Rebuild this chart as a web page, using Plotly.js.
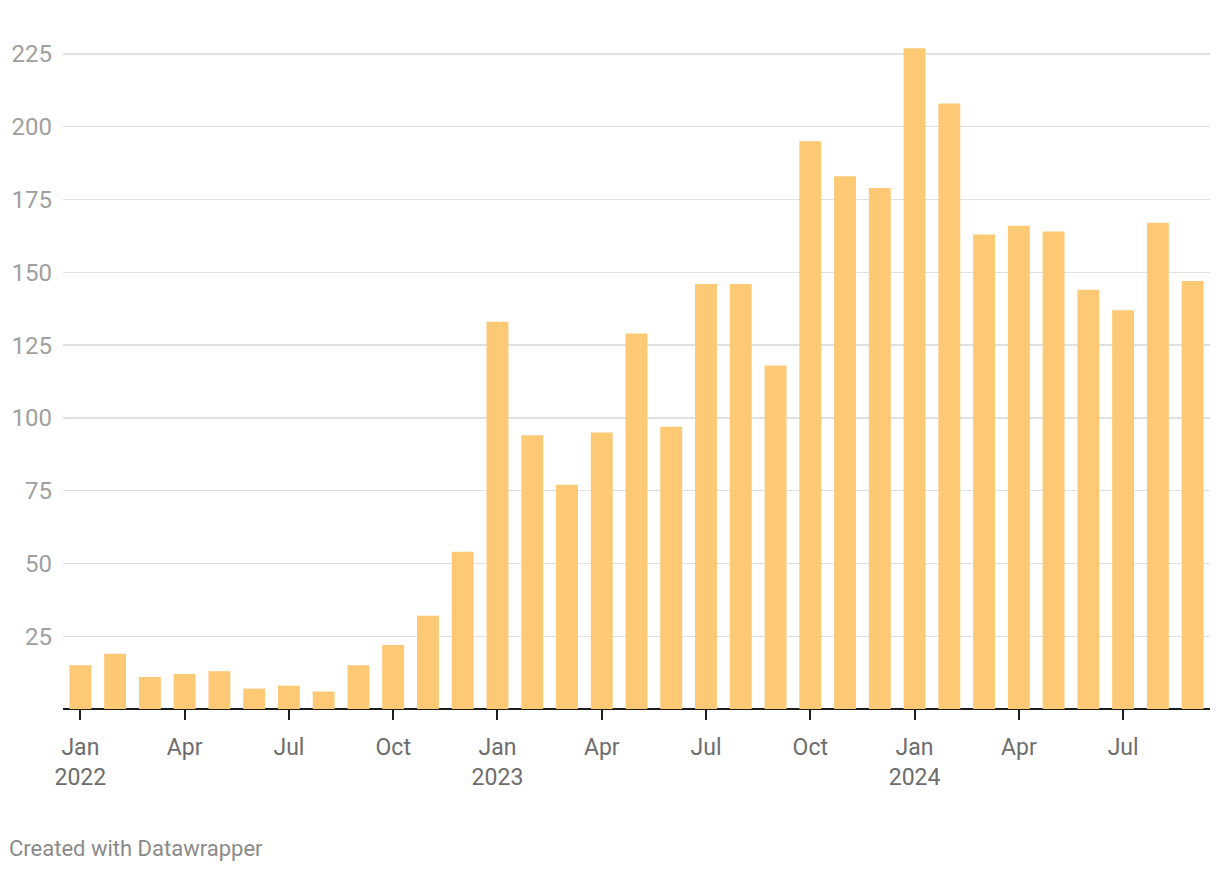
<!DOCTYPE html>
<html>
<head>
<meta charset="utf-8">
<script src="https://cdn.plot.ly/plotly-3.0.1.min.js"></script>
<style>
html,body{margin:0;padding:0;background:#fff;}
#chart{width:1220px;height:872px;}
</style>
</head>
<body>
<div id="chart"></div>
<script>
const months = ["2022-01","2022-02","2022-03","2022-04","2022-05","2022-06","2022-07","2022-08","2022-09","2022-10","2022-11","2022-12",
"2023-01","2023-02","2023-03","2023-04","2023-05","2023-06","2023-07","2023-08","2023-09","2023-10","2023-11","2023-12",
"2024-01","2024-02","2024-03","2024-04","2024-05","2024-06","2024-07","2024-08","2024-09"];
const values = [15,19,11,12,13,7,8,6,15,22,32,54,
133,94,77,95,129,97,146,146,118,195,183,179,
227,208,163,166,164,144,137,167,147];
const tickMonths = ["2022-01","2022-04","2022-07","2022-10","2023-01","2023-04","2023-07","2023-10","2024-01","2024-04","2024-07"];
const tickLabels = ["Jan<br>2022","Apr","Jul","Oct","Jan<br>2023","Apr","Jul","Oct","Jan<br>2024","Apr","Jul"];
const yTicks = [25,50,75,100,125,150,175,200,225];

const trace = {
  type: "bar",
  x: months,
  y: values,
  marker: {color: "#fdc975"},
  hoverinfo: "x+y"
};

const layout = {
  width: 1220, height: 872,
  margin: {l: 63, r: 10, t: 45, b: 163},
  paper_bgcolor: "#fff",
  plot_bgcolor: "#fff",
  bargap: 0.37,
  showlegend: false,
  font: {family: "Roboto, sans-serif"},
  xaxis: {
    type: "category",
    range: [-0.5, months.length - 0.5],
    tickmode: "array",
    tickvals: tickMonths,
    ticktext: tickLabels,
    ticks: "outside",
    ticklen: 10,
    tickwidth: 2,
    tickcolor: "#1d1d1d",
    ticklabelstandoff: 7,
    tickfont: {size: 23, color: "#6d6d6d", family: "Roboto, sans-serif"},
    showgrid: false,
    showline: false,
    zeroline: false,
    fixedrange: true
  },
  yaxis: {
    range: [0, 228.1],
    tickmode: "array",
    tickvals: yTicks,
    ticktext: yTicks.map(String),
    tickfont: {size: 24, color: "#a0a0a0", family: "Roboto, sans-serif"},
    ticklabelstandoff: 10,
    showgrid: true,
    gridcolor: "#e0e0e0",
    gridwidth: 1.3,
    zeroline: true,
    zerolinecolor: "#1d1d1d",
    zerolinewidth: 2,
    showline: false,
    fixedrange: true
  },
  annotations: [{
    xref: "paper", yref: "paper",
    x: -56/1147, y: -139/664,
    xanchor: "left", yanchor: "middle",
    text: "Created with Datawrapper",
    showarrow: false,
    font: {size: 22, color: "#8a8a8a", family: "Roboto, sans-serif"}
  }]
};

Plotly.newPlot("chart", [trace], layout, {displayModeBar: false, staticPlot: true});
</script>
</body>
</html>
